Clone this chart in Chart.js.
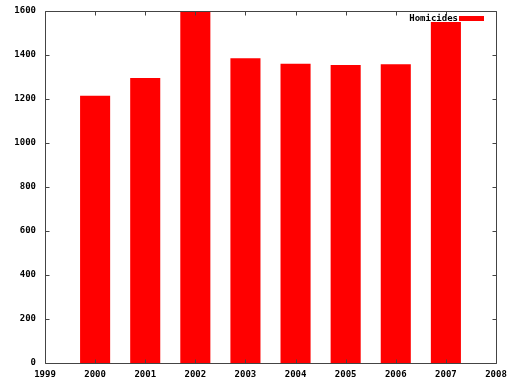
<!DOCTYPE html>
<html>
<head>
<meta charset="utf-8">
<script src="https://cdn.jsdelivr.net/npm/chart.js@4"></script>
<style>
  html, body { margin: 0; padding: 0; background: #fff; }
  #wrap { width: 512px; height: 384px; }
</style>
</head>
<body>
<div id="wrap"><canvas id="homChart" width="512" height="384"></canvas></div>
<script>
const years = [2000, 2001, 2002, 2003, 2004, 2005, 2006, 2007];
const homicides = [1215, 1295, 1595, 1385, 1360, 1355, 1358, 1550];
const seriesLabel = "Homicides";
const xRange = [1999, 2008];
const yRange = [0, 1600];

const tickFont = { family: "'DejaVu Sans Mono', 'Liberation Mono', monospace", size: 9, weight: "bold" };
const frameColor = "#444";

// gnuplot style frame: box round the plot with inward ticks on all four sides
const framePlugin = {
  id: "frame",
  afterDraw(chart) {
    const ctx = chart.ctx;
    const a = chart.chartArea;
    const xs = chart.scales.x, ys = chart.scales.y;
    const L = Math.round(a.left) + 0.5, R = Math.round(a.right) + 0.5;
    const T = Math.round(a.top) + 0.5, B = Math.round(a.bottom) + 0.5;
    ctx.save();
    ctx.strokeStyle = frameColor;
    ctx.lineWidth = 1;
    ctx.beginPath();
    ctx.rect(L, T, R - L, B - T);
    ys.ticks.forEach((t) => {
      const py = Math.round(ys.getPixelForValue(t.value)) + 0.5;
      ctx.moveTo(L, py); ctx.lineTo(L + 4, py);
      ctx.moveTo(R, py); ctx.lineTo(R - 4, py);
    });
    xs.ticks.forEach((t) => {
      const px = Math.round(xs.getPixelForValue(t.value)) + 0.5;
      ctx.moveTo(px, B); ctx.lineTo(px, B - 4);
      ctx.moveTo(px, T); ctx.lineTo(px, T + 4);
    });
    ctx.stroke();

    // key in the top right corner: text then sample
    const ds = chart.data.datasets[0];
    ctx.font = `${tickFont.weight} ${tickFont.size}px ${tickFont.family}`;
    ctx.fillStyle = "#000";
    ctx.textAlign = "right";
    ctx.textBaseline = "middle";
    ctx.fillText(ds.label, a.right - 38, a.top + 8);
    ctx.fillStyle = ds.backgroundColor;
    ctx.fillRect(a.right - 37, a.top + 5, 25, 5);
    ctx.restore();
  },
};

new Chart(document.getElementById("homChart"), {
  type: "bar",
  data: {
    datasets: [
      {
        label: seriesLabel,
        data: years.map((yr, i) => ({ x: yr, y: homicides[i] })),
        backgroundColor: "#ff0000",
        borderWidth: 0,
        barPercentage: 0.6,
        categoryPercentage: 1,
      },
    ],
  },
  options: {
    responsive: false,
    animation: false,
    layout: { padding: { top: 11, right: 16, left: 0, bottom: 0 } },
    plugins: {
      legend: { display: false },
      tooltip: { enabled: false },
    },
    scales: {
      x: {
        type: "linear",
        offset: false,
        min: xRange[0],
        max: xRange[1],
        grid: { display: false, offset: false, drawTicks: false },
        border: { display: false },
        ticks: {
          stepSize: 1,
          padding: 6,
          color: "#000",
          font: tickFont,
          maxRotation: 0,
          callback: (v) => String(v),
        },
        afterFit: (s) => { s.height = 21; s.paddingLeft = 0; s.paddingRight = 0; },
      },
      y: {
        min: yRange[0],
        max: yRange[1],
        grid: { display: false, drawTicks: false },
        border: { display: false },
        ticks: {
          stepSize: 200,
          padding: 9,
          color: "#000",
          font: tickFont,
          callback: (v) => String(v),
        },
        afterFit: (s) => { s.width = 45; s.paddingTop = 0; s.paddingBottom = 0; },
      },
    },
  },
  plugins: [framePlugin],
});
</script>
</body>
</html>
